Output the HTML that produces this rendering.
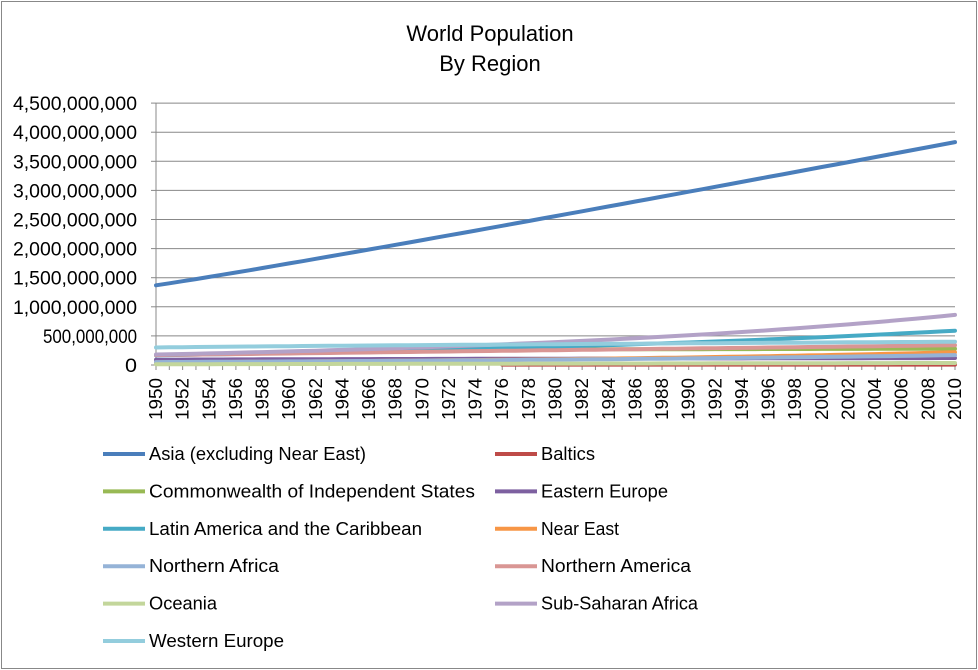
<!DOCTYPE html>
<html><head><meta charset="utf-8"><style>
html,body{margin:0;padding:0;background:#fff;width:978px;height:670px;overflow:hidden}
svg text{font-family:"Liberation Sans",sans-serif;fill:#000}
</style></head><body>
<svg id="s" width="978" height="670" xmlns="http://www.w3.org/2000/svg">
<rect x="1.5" y="1.5" width="975" height="667" fill="#fff" stroke="#888" stroke-width="1"/>
<text x="490" y="41" font-size="22" text-anchor="middle">World Population</text>
<text x="490" y="71" font-size="22" text-anchor="middle">By Region</text>
<g id="grid"></g>
<g id="series"></g>
<g id="legend" font-size="18"></g>
</svg>
<script>
var NS="http://www.w3.org/2000/svg";
function el(p,t,a,txt){var e=document.createElementNS(NS,t);for(var k in a)e.setAttribute(k,a[k]);if(txt!=null)e.textContent=txt;p.appendChild(e);return e;}
var g=document.getElementById('grid'),sr=document.getElementById('series'),lg=document.getElementById('legend');
var x0=156,x1=955,y0=365,per=58.2/1e9;
function X(i){return x0+(x1-x0)*i/60;}
function Y(v){return y0-v*per;}
var labs=["0","500,000,000","1,000,000,000","1,500,000,000","2,000,000,000","2,500,000,000","3,000,000,000","3,500,000,000","4,000,000,000","4,500,000,000"];
for(var k=0;k<=9;k++){var y=Y(k*5e8);
 if(k>0)el(g,'line',{x1:x0,x2:x1,y1:y,y2:y,stroke:'#888','stroke-width':1});
 el(g,'line',{x1:x0-5,x2:x0,y1:y,y2:y,stroke:'#888'});
 el(g,'text',{x:137,y:y+7,'font-size':19,'text-anchor':'end','textLength':(k==0?12:(k==1?94:124)),'lengthAdjust':'spacingAndGlyphs'},labs[k]);}
el(g,'line',{x1:x0,x2:x0,y1:Y(4.5e9),y2:y0,stroke:'#888'});
el(g,'line',{x1:x0,x2:x1,y1:y0,y2:y0,stroke:'#888'});
for(var i=0;i<=60;i++){el(g,'line',{x1:X(i),x2:X(i),y1:y0,y2:y0+5,stroke:'#888'});
 if(i%2==0){el(g,'text',{x:0,y:0,'font-size':18,'text-anchor':'end','textLength':42,'lengthAdjust':'spacingAndGlyphs',transform:'translate('+(X(i)+6)+','+(y0+13)+') rotate(-90)'},String(1950+i));}}
function lin(a,b,p){p=p||1;return function(t){return a+(b-a)*Math.pow(t,p);};}
function exp(a,b){return function(t){return a*Math.pow(b/a,t);};}
var S=[
["Asia (excluding Near East)","#4a7ebb",lin(1.37e9,3.83e9,1.05),0,217],
["Baltics","#be4b48",lin(6.5e6,7e6),26,54],
["Commonwealth of Independent States","#98b954",lin(2.55e8,2.8e8),26,326],
["Eastern Europe","#7d60a0",lin(0.09e9,0.12e9,0.7),0,127],
["Latin America and the Caribbean","#46aac5",exp(1.67e8,5.9e8),0,273],
["Near East","#f79646",exp(0.045e9,0.22e9),0,78],
["Northern Africa","#95b3d7",exp(0.05e9,0.17e9),0,130],
["Northern America","#d99694",lin(1.7e8,3.4e8),0,150],
["Oceania","#c3d69b",lin(1.3e7,3.5e7),0,68],
["Sub-Saharan Africa","#b3a2c7",exp(1.8e8,8.6e8),0,157],
["Western Europe","#93cddd",lin(3.0e8,4.0e8,0.8),0,135]];
S.forEach(function(s,n){var pts=[];for(var i=s[3];i<=60;i++){pts.push(X(i).toFixed(1)+','+Y(s[2](i/60)).toFixed(1));}
 el(sr,'polyline',{points:pts.join(' '),fill:'none',stroke:s[1],'stroke-width':4,'stroke-linejoin':'round','stroke-linecap':'round'});
 var col=n%2,row=Math.floor(n/2);var lx=col?495:103,ly=454+row*37.4;
 el(lg,'line',{x1:lx,x2:lx+42,y1:ly,y2:ly,stroke:s[1],'stroke-width':4});
 el(lg,'text',{x:lx+46,y:ly+6,'textLength':s[4],'lengthAdjust':'spacingAndGlyphs'},s[0]);});
</script>
</body></html>
